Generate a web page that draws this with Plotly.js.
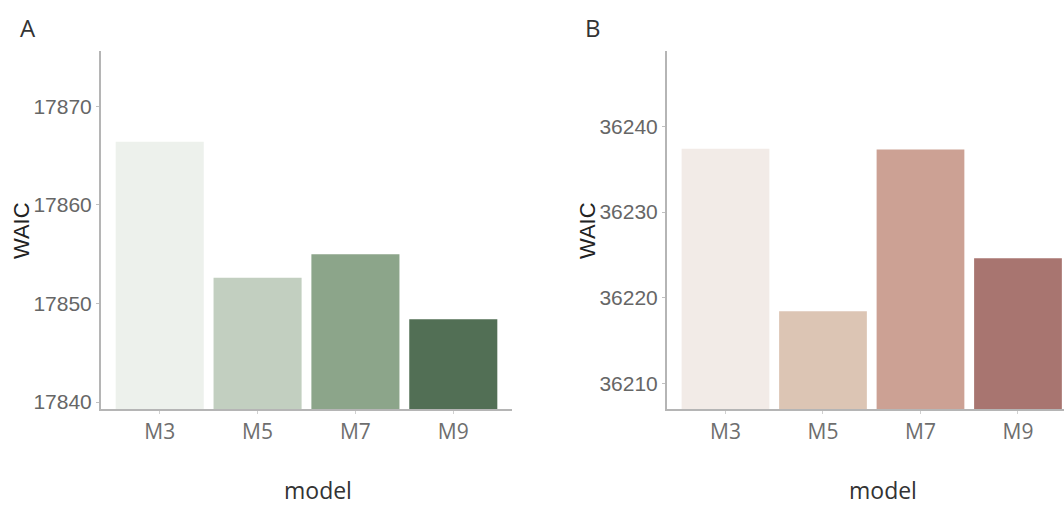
<!DOCTYPE html>
<html>
<head>
<meta charset="utf-8">
<script src="https://cdn.plot.ly/plotly-3.0.1.min.js"></script>
<style>html,body{margin:0;padding:0;background:#fff;}#chart{width:1064px;height:506px;}</style>
</head>
<body>
<div id="chart"></div>
<script>
// Data
const models = ["M3", "M5", "M7", "M9"];
const waicA = [17866.4, 17852.6, 17855.0, 17848.4];
const waicB = [36237.4, 36218.4, 36237.3, 36224.6];
const colorsA = ["#edf1ec", "#c2cfc0", "#8ca58a", "#526f55"];
const colorsB = ["#f2ebe7", "#dcc5b4", "#cca194", "#a87570"];
const ticksA = [17840, 17850, 17860, 17870];
const ticksB = [36210, 36220, 36230, 36240];

const W = 1064, H = 506;
const px = x => x / W;
const py = y => 1 - y / H;

const traces = [
  {type: "bar", x: models, y: waicA, marker: {color: colorsA}, width: 0.9,
   xaxis: "x", yaxis: "y", hoverinfo: "x+y"},
  {type: "bar", x: models, y: waicB, marker: {color: colorsB}, width: 0.9,
   xaxis: "x2", yaxis: "y2", hoverinfo: "x+y"}
];

const lineCol = "#b5b5b5";
const xTickFont = {family: "Open Sans, sans-serif", size: 21, color: "#6e6e6e"};
const yTickFont = {family: "Liberation Sans, Arial, sans-serif", size: 21, color: "#666666"};

function xAxis(domain, range) {
  return {domain: domain, range: range, type: "category", showgrid: false, zeroline: false,
    showline: true, linecolor: lineCol, linewidth: 2, ticks: "outside", ticklen: 3,
    tickcolor: "#d0d0d0", tickfont: xTickFont, automargin: false, fixedrange: true};
}
function yAxis(range, tickvals, anchor) {
  return {domain: [py(409), py(51)], range: range, showgrid: false, zeroline: false,
    showline: true, linecolor: lineCol, linewidth: 2, ticks: "outside", ticklen: 3,
    tickcolor: "#c0c0c0", tickvals: tickvals, ticktext: tickvals.map(String),
    tickfont: yTickFont, automargin: false, anchor: anchor, fixedrange: true};
}

const layout = {
  width: W, height: H,
  margin: {l: 0, r: 0, t: 0, b: 0},
  paper_bgcolor: "#ffffff", plot_bgcolor: "#ffffff",
  showlegend: false,
  xaxis: xAxis([px(101), px(512)], [-0.6, 3.6]),
  yaxis: yAxis([17839.3, 17875.6], ticksA, "x"),
  xaxis2: xAxis([px(667), 1], [-0.6, 3.472]),
  yaxis2: yAxis([36207.0, 36248.8], ticksB, "x2"),
  annotations: [
    {text: "A", x: px(28), y: py(27), xref: "paper", yref: "paper", showarrow: false,
     xanchor: "center", yanchor: "middle", font: {family: "Open Sans, sans-serif", size: 24, color: "#333333"}},
    {text: "B", x: px(593), y: py(27), xref: "paper", yref: "paper", showarrow: false,
     xanchor: "center", yanchor: "middle", font: {family: "Open Sans, sans-serif", size: 24, color: "#333333"}},
    {text: "WAIC", x: px(21), y: py(231), xref: "paper", yref: "paper", showarrow: false, textangle: -90,
     xanchor: "center", yanchor: "middle", font: {family: "Liberation Sans, Arial, sans-serif", size: 22, color: "#222222"}},
    {text: "WAIC", x: px(587), y: py(231), xref: "paper", yref: "paper", showarrow: false, textangle: -90,
     xanchor: "center", yanchor: "middle", font: {family: "Liberation Sans, Arial, sans-serif", size: 22, color: "#222222"}},
    {text: "model", x: px(318), y: py(508), xref: "paper", yref: "paper", showarrow: false,
     xanchor: "center", yanchor: "bottom", font: {family: "Open Sans, sans-serif", size: 23, color: "#333333"}},
    {text: "model", x: px(883), y: py(508), xref: "paper", yref: "paper", showarrow: false,
     xanchor: "center", yanchor: "bottom", font: {family: "Open Sans, sans-serif", size: 23, color: "#333333"}}
  ]
};

Plotly.newPlot("chart", traces, layout, {displayModeBar: false, staticPlot: true});
</script>
</body>
</html>
